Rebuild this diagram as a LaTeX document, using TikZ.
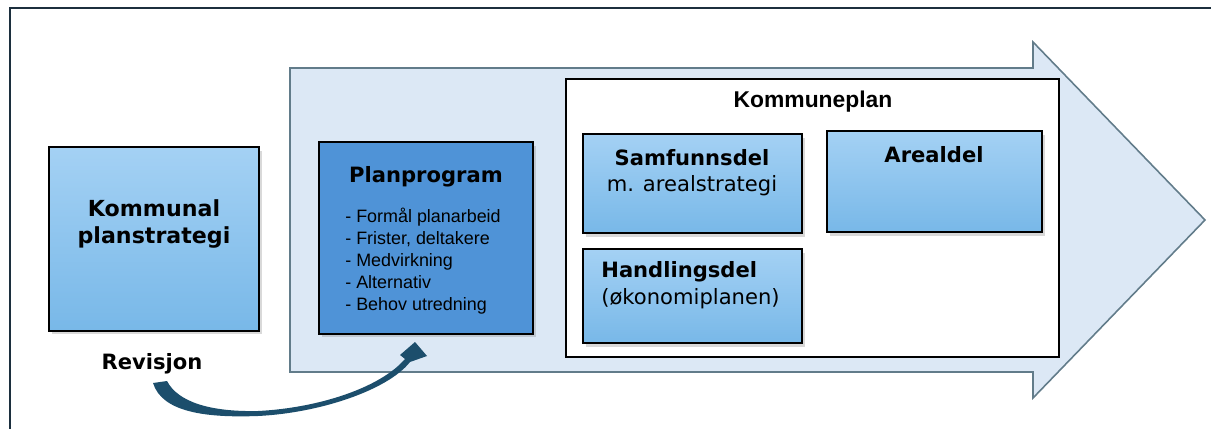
\documentclass[tikz,border=0pt]{standalone}
\usepackage{fontspec}
\setmainfont{DejaVu Sans}
\newfontfamily\arialfont{Liberation Sans}
\usetikzlibrary{shadows}
\definecolor{framecol}{HTML}{1C2F3E}
\definecolor{flowfill}{HTML}{DCE8F5}
\definecolor{flowedge}{HTML}{627C8A}
\definecolor{boxtop}{HTML}{A4D1F4}
\definecolor{boxbot}{HTML}{78B8E8}
\definecolor{progfill}{HTML}{4F93D7}
\definecolor{revcol}{HTML}{1C4E6C}
\begin{document}
\begin{tikzpicture}[x = 0.02cm, y = -0.02cm,
        partbox/.style = {draw = black, line width = 1.2pt, top color = boxtop, bottom color = boxbot,
            drop shadow = {opacity = 0.3, shadow xshift = 1.6pt, shadow yshift = -2pt}},
        boldtxt/.style = {font = \fontsize{12}{15.9}\selectfont\bfseries, align = center, inner sep = 0pt},
        normtxt/.style = {font = \fontsize{12}{15.9}\selectfont, align = center, inner sep = 0pt}]
    \useasboundingbox (0, 0) rectangle (1211, 429);
    \draw [framecol, line width = 1.5pt] (1211, 8) -- (10, 8) -- (10, 429);

    % big flow arrow
    \draw [fill = flowfill, draw = flowedge, line width = 0.9pt]
        (290, 68) -- (1033, 68) -- (1033, 42) -- (1205, 220) -- (1033, 398) -- (1033, 372) -- (290, 372) -- cycle;

    \node (kps) [partbox, minimum width = 4.2cm, minimum height = 3.68cm] at (154, 239) {};
    \node (kpstxt) [boldtxt, font = \fontsize{12.6}{15.9}\selectfont\bfseries] at (154, 224) {Kommunal\\planstrategi};
    \node (rev) [boldtxt] at (152, 364) {Revisjon};

    \node (pp) [draw = black, line width = 1.2pt, fill = progfill, minimum width = 4.28cm, minimum height = 3.84cm,
        drop shadow = {opacity = 0.3, shadow xshift = 1.6pt, shadow yshift = -2pt}] at (426, 238) {};
    \node (pptxt) [boldtxt] at (426, 177) {Planprogram};
    \node (pplist) [anchor = west, align = left, inner sep = 0pt, font = \arialfont\fontsize{10.2}{12.5}\selectfont]
        at (345, 261) {- Formål planarbeid\\- Frister, deltakere\\- Medvirkning\\- Alternativ\\- Behov utredning};

    \node (kp) [draw = black, line width = 1.2pt, fill = white, minimum width = 9.86cm, minimum height = 5.56cm] at (812.5, 218) {};
    \node (kptxt) [font = \arialfont\fontsize{13}{15}\selectfont\bfseries, inner sep = 0pt] at (813, 102) {Kommuneplan};

    \node (sd) [partbox, minimum width = 4.38cm, minimum height = 1.98cm] at (692.5, 183.5) {};
    \node (sdtxt) [boldtxt] at (692, 158) {Samfunnsdel};
    \node (sdsub) [normtxt] at (692, 186) {m. arealstrategi};

    \node (ad) [partbox, minimum width = 4.3cm, minimum height = 2.02cm] at (934.5, 181.5) {};
    \node (adtxt) [boldtxt] at (934, 155) {Arealdel};

    \node (hd) [partbox, minimum width = 4.38cm, minimum height = 1.88cm] at (692.5, 296) {};
    \node (hdtxt) [boldtxt, anchor = west] at (601, 272) {Handlingsdel};
    \node (hdsub) [normtxt, anchor = west] at (601, 299) {(økonomiplanen)};

    % revisjon back to planprogram
    \coordinate (tailA) at (153, 383);
    \coordinate (tailB) at (167, 381);
    \coordinate (tip) at (415, 342);
    \fill [revcol] (tailA) .. controls (162, 412) and (205, 418) .. (258, 416)
        .. controls (320, 413) and (388, 390) .. (410, 362)
        -- (427, 356) -- (tip) -- (400, 355) -- (405, 359)
        .. controls (380, 388) and (318, 408) .. (258, 411)
        .. controls (210, 412) and (178, 402) .. (tailB) -- cycle;
\end{tikzpicture}
\end{document}
